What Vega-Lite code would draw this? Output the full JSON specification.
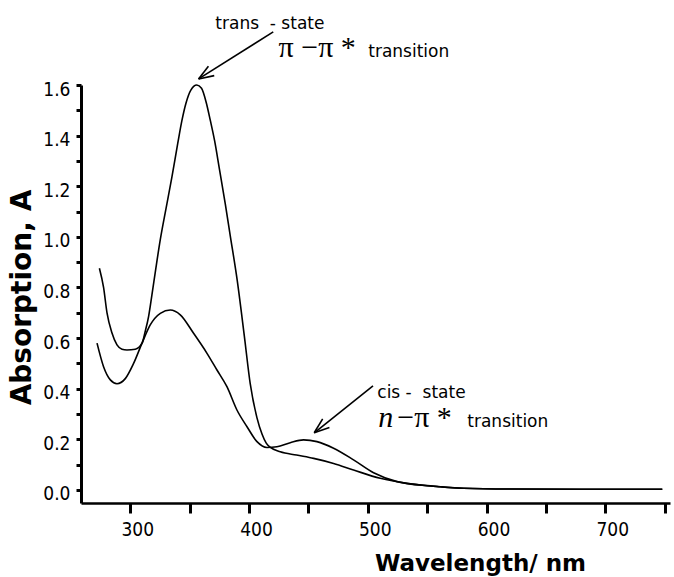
{
  "$schema": "https://vega.github.io/schema/vega-lite/v6.json",
  "autosize": {"type": "none"},
  "width": 589,
  "height": 418,
  "padding": {"left": 81, "top": 85, "right": 4, "bottom": 74},
  "background": "white",
  "config": {"view": {"stroke": null}},
  "datasets": {
    "spectra": [
      {"state": "trans", "wl": 274, "A": 0.876},
      {"state": "trans", "wl": 277.5, "A": 0.80},
      {"state": "trans", "wl": 280.4, "A": 0.70},
      {"state": "trans", "wl": 284.6, "A": 0.62},
      {"state": "trans", "wl": 288.8, "A": 0.573},
      {"state": "trans", "wl": 293, "A": 0.556},
      {"state": "trans", "wl": 297.2, "A": 0.553},
      {"state": "trans", "wl": 304.2, "A": 0.556},
      {"state": "trans", "wl": 309.9, "A": 0.58},
      {"state": "trans", "wl": 312.5, "A": 0.625},
      {"state": "trans", "wl": 315.4, "A": 0.685},
      {"state": "trans", "wl": 318.2, "A": 0.77},
      {"state": "trans", "wl": 321.5, "A": 0.875},
      {"state": "trans", "wl": 325.3, "A": 0.99},
      {"state": "trans", "wl": 330, "A": 1.11},
      {"state": "trans", "wl": 335, "A": 1.235},
      {"state": "trans", "wl": 340, "A": 1.37},
      {"state": "trans", "wl": 343.5, "A": 1.46},
      {"state": "trans", "wl": 347, "A": 1.53},
      {"state": "trans", "wl": 351, "A": 1.58},
      {"state": "trans", "wl": 356, "A": 1.60},
      {"state": "trans", "wl": 360, "A": 1.587},
      {"state": "trans", "wl": 364, "A": 1.53},
      {"state": "trans", "wl": 367.4, "A": 1.46},
      {"state": "trans", "wl": 371, "A": 1.38},
      {"state": "trans", "wl": 375, "A": 1.27},
      {"state": "trans", "wl": 380, "A": 1.13},
      {"state": "trans", "wl": 384, "A": 1.01},
      {"state": "trans", "wl": 390, "A": 0.83},
      {"state": "trans", "wl": 396, "A": 0.61},
      {"state": "trans", "wl": 401, "A": 0.42},
      {"state": "trans", "wl": 406.7, "A": 0.285},
      {"state": "trans", "wl": 411, "A": 0.22},
      {"state": "trans", "wl": 414.5, "A": 0.185},
      {"state": "trans", "wl": 418, "A": 0.168},
      {"state": "trans", "wl": 426.3, "A": 0.151},
      {"state": "trans", "wl": 440, "A": 0.138},
      {"state": "trans", "wl": 454.4, "A": 0.125},
      {"state": "trans", "wl": 471.2, "A": 0.105},
      {"state": "trans", "wl": 488, "A": 0.079},
      {"state": "trans", "wl": 510.5, "A": 0.046},
      {"state": "trans", "wl": 533, "A": 0.026},
      {"state": "trans", "wl": 561, "A": 0.013},
      {"state": "trans", "wl": 580.7, "A": 0.007},
      {"state": "trans", "wl": 620, "A": 0.004},
      {"state": "trans", "wl": 680, "A": 0.003},
      {"state": "trans", "wl": 748, "A": 0.003},
      {"state": "cis", "wl": 272, "A": 0.58},
      {"state": "cis", "wl": 277.5, "A": 0.487},
      {"state": "cis", "wl": 283.2, "A": 0.435},
      {"state": "cis", "wl": 288.8, "A": 0.42},
      {"state": "cis", "wl": 295.8, "A": 0.44},
      {"state": "cis", "wl": 302.8, "A": 0.50},
      {"state": "cis", "wl": 309.9, "A": 0.58},
      {"state": "cis", "wl": 316.8, "A": 0.652},
      {"state": "cis", "wl": 325.3, "A": 0.698},
      {"state": "cis", "wl": 333.7, "A": 0.711},
      {"state": "cis", "wl": 342.1, "A": 0.692},
      {"state": "cis", "wl": 353.3, "A": 0.619},
      {"state": "cis", "wl": 364.6, "A": 0.54},
      {"state": "cis", "wl": 373, "A": 0.474},
      {"state": "cis", "wl": 381.4, "A": 0.408},
      {"state": "cis", "wl": 389.8, "A": 0.316},
      {"state": "cis", "wl": 398.3, "A": 0.25},
      {"state": "cis", "wl": 406.7, "A": 0.191},
      {"state": "cis", "wl": 415.1, "A": 0.168},
      {"state": "cis", "wl": 423.5, "A": 0.171},
      {"state": "cis", "wl": 434.7, "A": 0.187},
      {"state": "cis", "wl": 445.9, "A": 0.198},
      {"state": "cis", "wl": 457.2, "A": 0.191},
      {"state": "cis", "wl": 471.2, "A": 0.165},
      {"state": "cis", "wl": 488, "A": 0.119},
      {"state": "cis", "wl": 504.9, "A": 0.068},
      {"state": "cis", "wl": 524.6, "A": 0.033},
      {"state": "cis", "wl": 552.6, "A": 0.016},
      {"state": "cis", "wl": 580.7, "A": 0.007},
      {"state": "cis", "wl": 620, "A": 0.004},
      {"state": "cis", "wl": 680, "A": 0.003},
      {"state": "cis", "wl": 748, "A": 0.003}
    ],
    "arrows": [
      {"wl": 420.4, "A": 1.81, "wl2": 357.5, "A2": 1.624},
      {"wl": 357.5, "A": 1.624, "wl2": 370.7, "A2": 1.637},
      {"wl": 357.5, "A": 1.624, "wl2": 365.8, "A2": 1.674},
      {"wl": 504.4, "A": 0.411, "wl2": 454.9, "A2": 0.226},
      {"wl": 454.9, "A": 0.226, "wl2": 467.7, "A2": 0.247},
      {"wl": 454.9, "A": 0.226, "wl2": 462.0, "A2": 0.281}
    ],
    "notes": [
      {"role": "sans", "wl": 371.6, "A": 1.82, "label": "trans\u00a0\u00a0- state"},
      {"role": "sans", "wl": 500.4, "A": 1.712, "label": "transition"},
      {"role": "sans", "wl": 508, "A": 0.365, "label": "cis -\u00a0\u00a0state"},
      {"role": "sans", "wl": 583.8, "A": 0.248, "label": "transition"},
      {"role": "serif", "wl": 424.9, "A": 1.712, "label": "π −π *"},
      {"role": "serif", "wl": 524.8, "A": 0.25, "label": "−π *"},
      {"role": "italic", "wl": 508.8, "A": 0.25, "label": "n"}
    ]
  },
  "encoding": {
    "x": {
      "field": "wl", "type": "quantitative",
      "scale": {"domain": [258.5, 754.5], "nice": false, "zero": false},
      "axis": {
        "title": "Wavelength/ nm",
        "titleFont": "DejaVu Sans", "titleFontSize": 23, "titleFontWeight": "bold", "titleColor": "black",
        "titleX": 399, "titleY": 67, "titleBaseline": "alphabetic", "titleAlign": "center",
        "values": [300, 350, 400, 450, 500, 550, 600, 650, 700, 750],
        "labelExpr": "datum.value % 100 === 0 ? datum.label : ''",
        "labelFont": "DejaVu Sans Condensed, DejaVu Sans", "labelFontSize": 19, "labelColor": "black",
        "labelPadding": 7, "labelOffset": 7,
        "grid": false, "domainColor": "black", "domainWidth": 2.5,
        "tickColor": "black", "tickWidth": 3, "tickSize": 10
      }
    },
    "y": {
      "field": "A", "type": "quantitative",
      "scale": {"domain": [-0.0514, 1.6], "nice": false, "zero": false},
      "axis": {
        "title": "Absorption, A",
        "titleFont": "DejaVu Sans", "titleFontSize": 28, "titleFontWeight": "bold", "titleColor": "black",
        "titleX": -51, "titleY": 212, "titleBaseline": "alphabetic", "titleAlign": "center", "titleAngle": -90,
        "values": [0, 0.1, 0.2, 0.3, 0.4, 0.5, 0.6, 0.7, 0.8, 0.9, 1.0, 1.1, 1.2, 1.3, 1.4, 1.5, 1.6],
        "labelExpr": "round(datum.value * 10) % 2 === 0 ? format(datum.value, '.1f') : ''",
        "labelFont": "DejaVu Sans Condensed, DejaVu Sans", "labelFontSize": 19, "labelColor": "black",
        "labelPadding": 6, "labelOffset": 4,
        "grid": false, "domainColor": "black", "domainWidth": 3,
        "tickColor": "black", "tickWidth": 3, "tickSize": 5
      }
    }
  },
  "layer": [
    {
      "data": {"name": "spectra"},
      "mark": {"type": "line", "color": "black", "strokeWidth": 1.6, "interpolate": "monotone"},
      "encoding": {"detail": {"field": "state"}, "order": {"field": "wl"}}
    },
    {
      "data": {"name": "arrows"},
      "mark": {"type": "rule", "color": "black", "strokeWidth": 1.6},
      "encoding": {"x2": {"field": "wl2"}, "y2": {"field": "A2"}}
    },
    {
      "data": {"name": "notes"},
      "transform": [{"filter": "datum.role === 'sans'"}],
      "mark": {"type": "text", "align": "left", "baseline": "alphabetic", "font": "DejaVu Sans", "fontSize": 17, "color": "black"},
      "encoding": {"text": {"field": "label"}}
    },
    {
      "data": {"name": "notes"},
      "transform": [{"filter": "datum.role === 'serif'"}],
      "mark": {"type": "text", "align": "left", "baseline": "alphabetic", "font": "Liberation Serif", "fontSize": 30, "color": "black"},
      "encoding": {"text": {"field": "label"}}
    },
    {
      "data": {"name": "notes"},
      "transform": [{"filter": "datum.role === 'italic'"}],
      "mark": {"type": "text", "align": "left", "baseline": "alphabetic", "font": "Liberation Serif", "fontStyle": "italic", "fontSize": 30, "color": "black"},
      "encoding": {"text": {"field": "label"}}
    }
  ]
}
